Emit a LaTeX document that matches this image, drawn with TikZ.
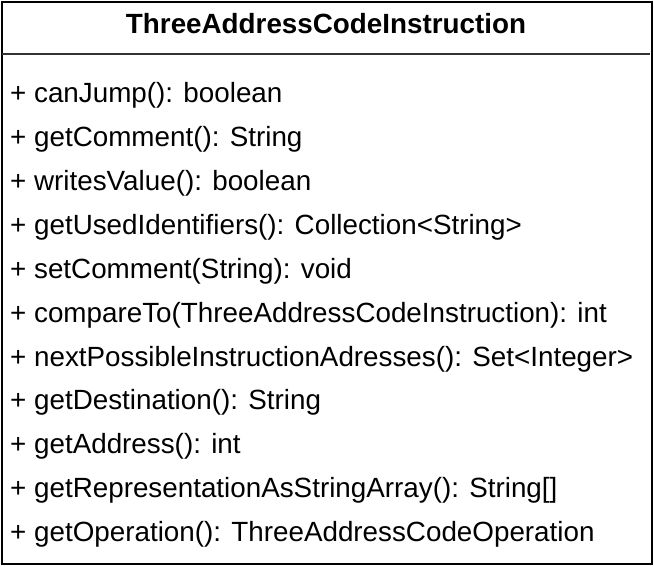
\documentclass[tikz,border=0pt]{standalone}
\usepackage{fontspec}
\setmainfont{Liberation Sans}
\usetikzlibrary{positioning}
\tikzset{
 classbox/.style={draw=black,line width=2pt},
 divider/.style={draw=black!80,line width=1.5pt},
 classname/.style={font=\fontsize{27.8}{32}\selectfont\bfseries,inner sep=0},
 member/.style={anchor=west,font=\fontsize{27.8}{32}\selectfont,inner sep=0}
}

\begin{document}
\begin{tikzpicture}[x=1pt,y=-1pt]
\path[use as bounding box] (0,0) rectangle (654,566);
\draw[classbox] (1.5,1.5) rectangle (652,564);
\coordinate (sepL) at (1.5,54);
\coordinate (sepR) at (650,54);
\draw[divider] (sepL) -- (sepR);
\node[classname] (title) at (326,24) {ThreeAddressCodeInstruction};
\foreach \i/\txt in {
 0/{+ canJump(): boolean},
 1/{+ getComment(): String},
 2/{+ writesValue(): boolean},
 3/{+ getUsedIdentifiers(): Collection<String>},
 4/{+ setComment(String): void},
 5/{+ compareTo(ThreeAddressCodeInstruction): int},
 6/{+ nextPossibleInstructionAdresses(): Set<Integer>},
 7/{+ getDestination(): String},
 8/{+ getAddress(): int},
 9/{+ getRepresentationAsStringArray(): String[]},
 10/{+ getOperation(): ThreeAddressCodeOperation}}
 \node[member] (op\i) at (10,{95.5+43.9*\i}) {\txt};
\end{tikzpicture}
\end{document}
